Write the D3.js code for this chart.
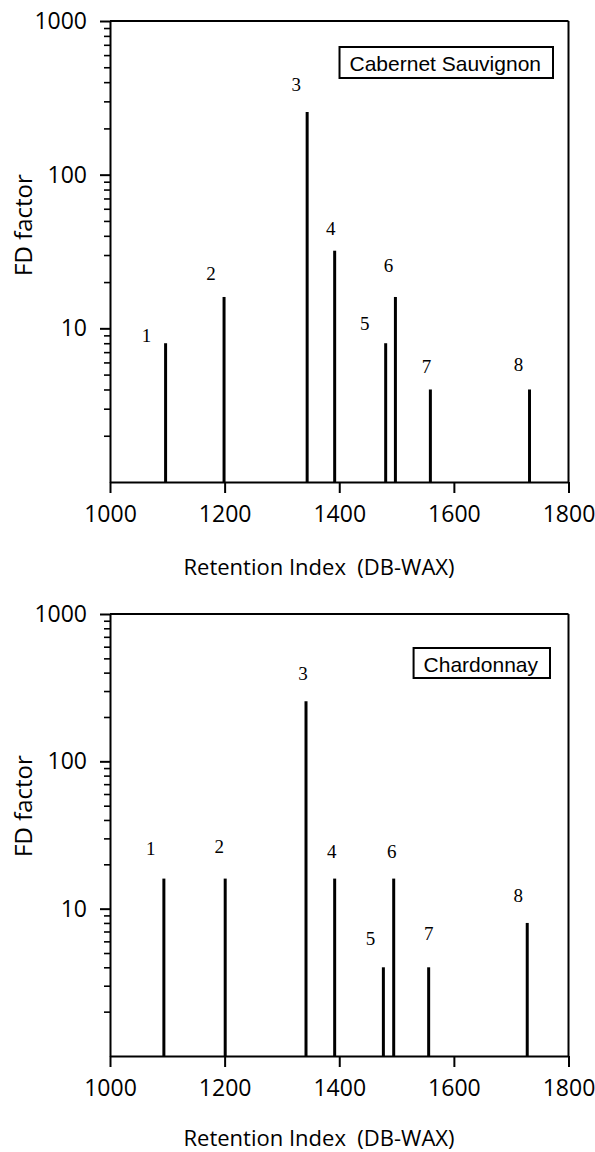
<!DOCTYPE html>
<html>
<head>
<meta charset="utf-8">
<script src="https://cdn.jsdelivr.net/npm/d3@7"></script>
<style>
  html, body { margin: 0; padding: 0; background: #fff; }
  svg { display: block; }
</style>
</head>
<body>
<script>
// peak numbers and values
const peaks = ["1", "2", "3", "4", "5", "6", "7", "8"];
const riCabernet = [1097, 1199, 1344, 1392, 1481, 1498, 1559, 1732];
const fdCabernet = [8, 16, 256, 32, 8, 16, 4, 4];
const riChardonnay = [1094, 1201, 1342, 1392, 1477, 1495, 1556, 1728];
const fdChardonnay = [16, 16, 256, 16, 4, 16, 4, 8];

const xTicks = [1000, 1200, 1400, 1600, 1800];
const yMajor = [10, 100, 1000];
const xTitle = "Retention Index\u00a0\u00a0(DB-WAX)";
const yTitle = "FD factor";

// label nudges (px) relative to each bar top, per panel
const nudgeCabernet = [[-19, -8], [-13, -23], [-11, -27], [-4, -22], [-21, -20], [-7, -31], [-4, -23], [-11, -25]];
const nudgeChardonnay = [[-13, -30], [-6, -32], [-3, -28], [-3, -27], [-13, -29], [-2, -27], [0, -34], [-9, -27]];

const W = 595, H = 1152;
const sans = "'Open Sans', sans-serif";
const serif = "'Liberation Serif', 'Times New Roman', serif";

const svg = d3.select("body").append("svg")
  .attr("width", W).attr("height", H);

const panels = [
  { name: "Cabernet Sauvignon", ri: riCabernet, fd: fdCabernet, nudge: nudgeCabernet,
    top: 21, bottom: 482, boxRight: 553, boxTop: 47, boxH: 31, yTitleY: 225, xTitleY: 575 },
  { name: "Chardonnay", ri: riChardonnay, fd: fdChardonnay, nudge: nudgeChardonnay,
    top: 614, bottom: 1056, boxRight: 550, boxTop: 648, boxH: 30, yTitleY: 806, xTitleY: 1146 }
];

const left = 110, right = 568.5;

panels.forEach(p => {
  const x = d3.scaleLinear().domain([1000, 1800]).range([left, right]);
  const y = d3.scaleLog().domain([1, 1000]).range([p.bottom, p.top]);
  const g = svg.append("g");

  // frame: top and right borders
  g.append("line").attr("x1", left).attr("x2", right).attr("y1", p.top).attr("y2", p.top)
    .attr("stroke", "#000").attr("stroke-width", 2);
  g.append("line").attr("x1", right).attr("x2", right).attr("y1", p.top).attr("y2", p.bottom)
    .attr("stroke", "#000").attr("stroke-width", 2);

  // minor y ticks
  const minor = y.ticks().filter(v => v > 1 && !yMajor.includes(v));
  const yMin = g.append("g").attr("transform", `translate(${left},0)`)
    .call(d3.axisLeft(y).tickValues(minor).tickSize(6).tickFormat(""));
  yMin.select(".domain").remove();
  yMin.selectAll("line").attr("stroke-width", 1.6);

  // major y ticks + labels
  const yAx = g.append("g").attr("transform", `translate(${left},0)`)
    .call(d3.axisLeft(y).tickValues(yMajor).tickSize(10).tickPadding(13).tickSizeOuter(0)
      .tickFormat(d3.format("d")));
  yAx.select(".domain").attr("stroke-width", 2);
  yAx.selectAll("line").attr("stroke-width", 2);
  yAx.selectAll("text").attr("font-family", sans).attr("font-size", 23).attr("fill", "#000");

  // x axis
  const xAx = g.append("g").attr("transform", `translate(0,${p.bottom})`)
    .call(d3.axisBottom(x).tickValues(xTicks).tickSize(11).tickPadding(13).tickSizeOuter(0)
      .tickFormat(d3.format("d")));
  xAx.select(".domain").attr("stroke-width", 2);
  xAx.selectAll("line").attr("stroke-width", 2);
  xAx.selectAll("text").attr("font-family", sans).attr("font-size", 23).attr("fill", "#000");

  // bars
  g.append("g").selectAll("line").data(p.fd).join("line")
    .attr("x1", (d, i) => x(p.ri[i])).attr("x2", (d, i) => x(p.ri[i]))
    .attr("y1", y(1)).attr("y2", d => y(d))
    .attr("stroke", "#000").attr("stroke-width", 3);

  // peak labels
  g.append("g").selectAll("text").data(peaks).join("text")
    .attr("x", (d, i) => x(p.ri[i]) + p.nudge[i][0])
    .attr("y", (d, i) => y(p.fd[i]) + p.nudge[i][1])
    .attr("dy", "0.34em")
    .attr("text-anchor", "middle")
    .attr("font-family", serif).attr("font-size", 19)
    .text(d => d);

  // legend box
  const lg = g.append("g");
  const rect = lg.append("rect");
  const lt = lg.append("text")
    .attr("x", p.boxRight - 12).attr("y", p.boxTop + 23.5)
    .attr("text-anchor", "end")
    .attr("font-family", "'Liberation Sans', Arial, sans-serif").attr("font-size", 21)
    .text(p.name);
  const bb = lt.node().getBBox();
  rect.attr("x", bb.x - 10).attr("y", p.boxTop)
    .attr("width", p.boxRight - bb.x + 10).attr("height", p.boxH)
    .attr("fill", "#fff").attr("stroke", "#000").attr("stroke-width", 2);

  // axis titles
  g.append("text")
    .attr("x", 319).attr("y", p.xTitleY)
    .attr("text-anchor", "middle")
    .attr("font-family", sans).attr("font-size", 22)
    .text(xTitle);
  g.append("text")
    .attr("transform", `translate(31.5,${p.yTitleY}) rotate(-90)`)
    .attr("text-anchor", "middle")
    .attr("font-family", sans).attr("font-size", 24)
    .text(yTitle);
});
</script>
</body>
</html>
